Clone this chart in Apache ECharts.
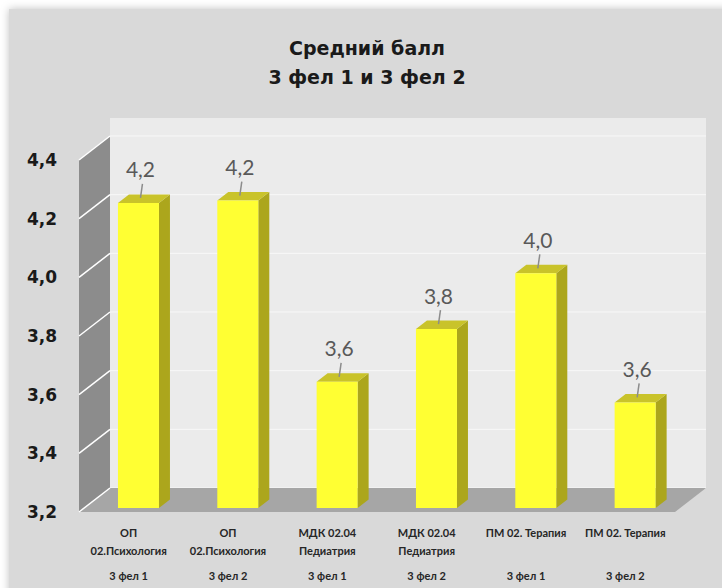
<!DOCTYPE html>
<html>
<head>
<meta charset="utf-8">
<script src="https://cdn.jsdelivr.net/npm/echarts@6/dist/echarts.min.js"></script>
<style>
html,body{margin:0;padding:0;background:#fff;}
#chart{width:722px;height:588px;}
</style>
</head>
<body>
<div id="chart"></div>
<script>
// ---- data ----
const titleLines = ['Средний балл', '3 фел 1 и 3 фел 2'];
const subjects = ['ОП\n02.Психология', 'ОП\n02.Психология', 'МДК 02.04\nПедиатрия', 'МДК 02.04\nПедиатрия', 'ПМ 02. Терапия', 'ПМ 02. Терапия'];
const groups = ['3 фел 1', '3 фел 2', '3 фел 1', '3 фел 2', '3 фел 1', '3 фел 2'];
const values = [4.24, 4.248, 3.63, 3.81, 4.00, 3.56];
const yTicks = [3.2, 3.4, 3.6, 3.8, 4.0, 4.2, 4.4];

const fmt = v => v.toFixed(1).replace('.', ',');

// 3D look constants (pixels)
const WALL_DX = 31, WALL_DY = -24;
const BAR_W = 41, BAR_SHIFT_X = 9.8, BAR_SHIFT_Y = -4, BAR_DX = 11, BAR_DY = -8.5;

const chart = echarts.init(document.getElementById('chart'), null, {renderer: 'svg'});

function wallsRender(params, api) {
  const band = api.size([1, 0])[0];
  const n = subjects.length;
  const xL = api.coord([0, yTicks[0]])[0] - band / 2;
  const xR = api.coord([n - 1, yTicks[0]])[0] + band / 2;
  const yF = v => api.coord([0, v])[1];
  const yMin = yTicks[0], yMax = yTicks[yTicks.length - 1];
  const children = [];
  // back wall
  children.push({type: 'rect', shape: {x: xL + WALL_DX, y: yF(yMax) + WALL_DY - 18, width: xR - xL, height: yF(yMin) - yF(yMax) + 18},
    style: {fill: '#ebebeb'}});
  // back wall gridlines
  yTicks.forEach(t => {
    children.push({type: 'line', shape: {x1: xL + WALL_DX, y1: yF(t) + WALL_DY, x2: xR + WALL_DX, y2: yF(t) + WALL_DY},
      style: {stroke: '#f8f8f8', lineWidth: 1}});
  });
  // side wall
  children.push({type: 'polygon', shape: {points: [[xL, yF(yMax)], [xL + WALL_DX, yF(yMax) + WALL_DY], [xL + WALL_DX, yF(yMin) + WALL_DY], [xL, yF(yMin)]]},
    style: {fill: '#8c8c8c'}});
  // floor
  children.push({type: 'polygon', shape: {points: [[xL, yF(yMin)], [xR, yF(yMin)], [xR + WALL_DX, yF(yMin) + WALL_DY], [xL + WALL_DX, yF(yMin) + WALL_DY]]},
    style: {fill: '#a6a6a6'}});
  // side wall gridlines
  yTicks.forEach(t => {
    children.push({type: 'line', shape: {x1: xL, y1: yF(t), x2: xL + WALL_DX, y2: yF(t) + WALL_DY},
      style: {stroke: '#ffffff', lineWidth: 1.5}});
  });
  return {type: 'group', children};
}

function barRender(params, api) {
  const i = api.value(0);
  const v = api.value(1);
  const p0 = api.coord([i, yTicks[0]]);
  const p1 = api.coord([i, v]);
  const cx = p0[0] + BAR_SHIFT_X;
  const x0 = cx - BAR_W / 2;
  const yb = p0[1] + BAR_SHIFT_Y;
  const yt = p1[1] + BAR_SHIFT_Y;
  return {type: 'group', children: [
    {type: 'polygon', shape: {points: [[x0 + BAR_W, yt], [x0 + BAR_W + BAR_DX, yt + BAR_DY], [x0 + BAR_W + BAR_DX, yb + BAR_DY], [x0 + BAR_W, yb]]},
      style: {fill: '#aca61c'}},
    {type: 'polygon', shape: {points: [[x0, yt], [x0 + BAR_DX, yt + BAR_DY], [x0 + BAR_W + BAR_DX, yt + BAR_DY], [x0 + BAR_W, yt]]},
      style: {fill: '#c9c32a'}},
    {type: 'rect', shape: {x: x0, y: yt, width: BAR_W, height: yb - yt}, style: {fill: '#ffff33'}},
    {type: 'line', shape: {x1: cx + 4, y1: yt - 19, x2: cx + 2, y2: yt - 5}, style: {stroke: '#8c8c8c', lineWidth: 1.5}},
    {type: 'text', style: {text: fmt(v), x: cx + 2, y: yt - 34, textAlign: 'center', align: 'center', textVerticalAlign: 'middle', verticalAlign: 'middle',
      fill: '#595959', fontSize: 21, fontFamily: 'Lato'}}
  ]};
}

const option = {
  backgroundColor: '#ffffff',
  animation: false,
  graphic: [{
    type: 'rect', z: -10, silent: true,
    shape: {x: 9, y: 9, width: 730, height: 600},
    style: {fill: '#d9d9d9', shadowBlur: 8, shadowColor: 'rgba(0,0,0,0.25)'}
  }],
  title: {
    text: titleLines.join('\n'),
    left: 367, top: 33, padding: 0, textAlign: 'center',
    textStyle: {fontFamily: 'DejaVu Sans', fontWeight: 'bold', fontSize: 19, lineHeight: 29, color: '#1a1a1a'}
  },
  grid: {left: 79, top: 160, width: 596, height: 352, containLabel: false},
  xAxis: {
    type: 'category',
    data: subjects.map((s, i) => s + ' ' + groups[i]),
    axisLine: {show: false}, axisTick: {show: false}, splitLine: {show: false},
    axisLabel: {
      interval: 0, margin: 11,
      formatter: (val, idx) => {
        const lines = subjects[idx].split('\n');
        if (lines.length < 2) lines.push(' ');
        return lines.map(l => '{a|' + l + '}').join('\n') + '\n{b|' + groups[idx] + '}';
      },
      rich: {
        a: {fontFamily: 'Lato', fontWeight: 'bold', fontSize: 11, lineHeight: 18, color: '#262626', align: 'center'},
        b: {fontFamily: 'Lato', fontWeight: 'bold', fontSize: 11, lineHeight: 32, color: '#262626', align: 'center'}
      }
    }
  },
  yAxis: {
    type: 'value', min: yTicks[0], max: yTicks[yTicks.length - 1], interval: 0.2,
    axisLine: {show: false}, axisTick: {show: false}, splitLine: {show: false},
    axisLabel: {margin: 22, formatter: v => fmt(v), fontFamily: 'DejaVu Sans', fontWeight: 'bold', fontSize: 17, color: '#1a1a1a'}
  },
  series: [
    {type: 'custom', name: 'walls', renderItem: wallsRender, data: [[0, yTicks[0]]], silent: true, z: 1},
    {type: 'custom', name: 'Средний балл', renderItem: barRender, data: values.map((v, i) => [i, v]), encode: {x: 0, y: 1}, z: 2}
  ]
};
chart.setOption(option);
</script>
</body>
</html>
